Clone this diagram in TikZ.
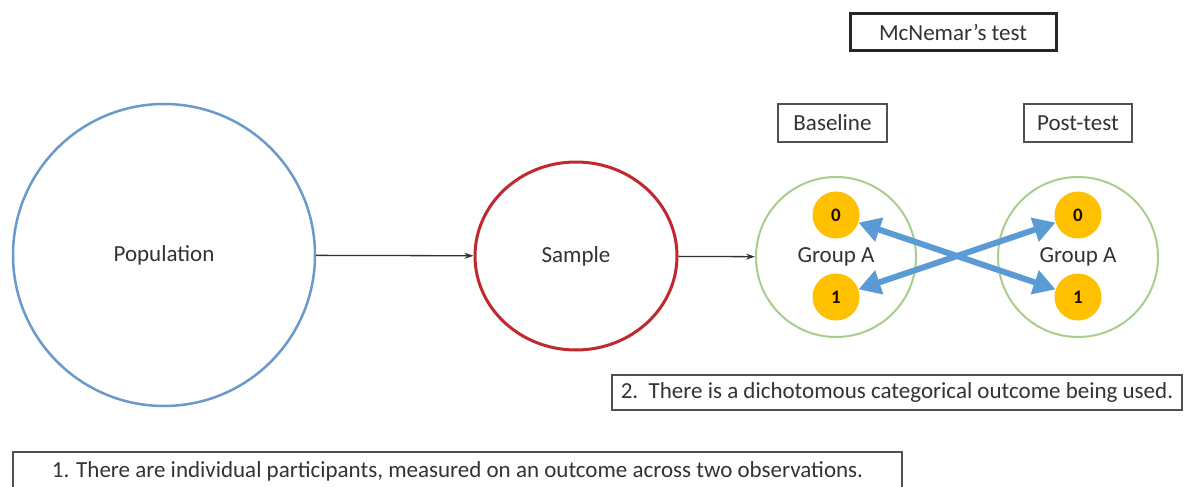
\documentclass[tikz,border=0pt]{standalone}
\usepackage{fontspec}
\setmainfont{Carlito}
\usetikzlibrary{shapes.geometric,arrows.meta}
\definecolor{popblue}{HTML}{6A9ACB}
\definecolor{samplered}{HTML}{C0282D}
\definecolor{grpgreen}{HTML}{A9CD8C}
\definecolor{dotyellow}{HTML}{FFC000}
\definecolor{arrblue}{HTML}{5B9BD5}
\definecolor{txtgray}{HTML}{333333}
\definecolor{boxgray}{HTML}{505050}
\tikzset{
  lbl/.style={text=txtgray, font=\fontsize{23}{27}\selectfont},
  bigcirc/.style={circle, lbl},
  grp/.style={circle, draw=grpgreen, line width=2pt, minimum size=160pt, lbl},
  dot/.style={circle, fill=dotyellow, minimum size=47pt, inner sep=0pt, text=black!70!orange!40!black, font=\fontsize{19}{22}\selectfont\bfseries},
  labelbox/.style={draw=boxgray, line width=2.5pt, fill=white, inner sep=0pt, lbl},
  conn/.style={draw=black!80, line width=1.3pt, -{Stealth[length=9pt,width=6pt]}},
  swap/.style={draw=arrblue, line width=6pt, {Triangle[length=22pt,width=24pt]}-{Triangle[length=22pt,width=24pt]}}
}
\begin{document}
\begin{tikzpicture}[x=1pt,y=-1pt]
\useasboundingbox[fill=white] (0,0) rectangle (1184,487);

\node[bigcirc, draw=popblue, line width=2.5pt, minimum size=302pt] (pop) at (164,255) {Population};
\node[ellipse, draw=samplered, line width=3pt, minimum width=202pt, minimum height=188pt, lbl] (samp) at (576,256) {Sample};

\node[grp] (gl) at (836,257) {Group A};
\node[grp] (gr) at (1078,257) {Group A};

\node[dot] (l0) at (836,215) {0};
\node[dot] (l1) at (836,297) {1};
\node[dot] (r0) at (1078,215) {0};
\node[dot] (r1) at (1078,297) {1};

\draw[conn] (pop) -- (samp);
\draw[conn] (samp) -- (gl);

\draw[swap] (l0) -- (r1);
\draw[swap] (l1) -- (r0);

\node[labelbox, draw=black!85, line width=3pt, minimum width=206pt, minimum height=37pt] (mcn) at (953,32.5) {McNemar's test};
\node[labelbox, minimum width=109pt, minimum height=38pt] (base) at (832.5,123) {Baseline};
\node[labelbox, minimum width=108pt, minimum height=38pt] (post) at (1078,123) {Post-test};

\node[labelbox, minimum width=570pt, minimum height=35pt] (c2) at (897,392.5) {2.\ \ There is a dichotomous categorical outcome being used.};
\node[labelbox, minimum width=889pt, minimum height=38pt] (c1) at (457.5,471) {1. There are individual participants, measured on an outcome across two observations.};
\end{tikzpicture}
\end{document}
